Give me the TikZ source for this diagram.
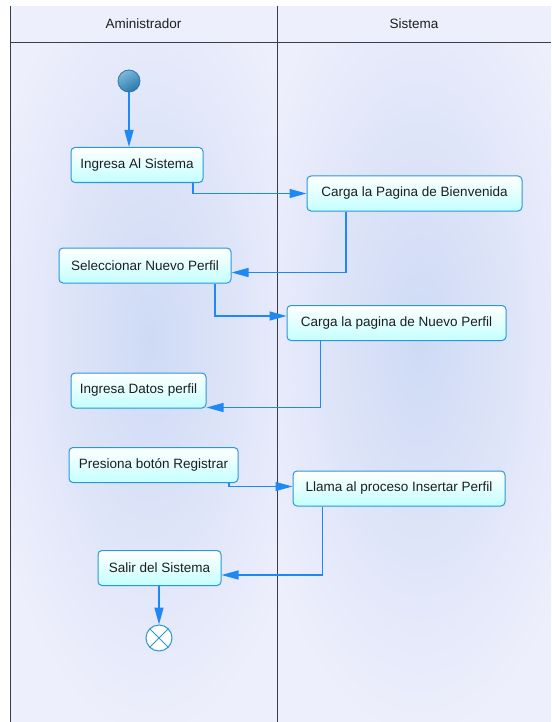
\documentclass[tikz,border=0pt]{standalone}
\usepackage{fontspec}
\setmainfont{Liberation Sans}
\usetikzlibrary{arrows.meta, calc, positioning}
\definecolor{LaneBg}{RGB}{238,239,252}
\definecolor{LaneGlow}{RGB}{206,218,245}
\definecolor{LaneLine}{HTML}{3C3C46}
\definecolor{FlowBlue}{HTML}{1E88F5}
\definecolor{BoxLine}{HTML}{2A98D6}
\definecolor{BoxCyan}{RGB}{196,255,255}
\definecolor{StartLight}{HTML}{7DB8DC}
\definecolor{StartDark}{HTML}{2A78AA}
\definecolor{DText}{HTML}{1E1E1E}
\tikzset{
    activity/.style={draw=BoxLine, line width=1pt, rounded corners=4pt,
        top color=white, bottom color=BoxCyan, text=DText,
        minimum height=35pt, inner sep=0pt,
        font=\fontsize{13.5}{16}\selectfont},
    flow/.style={FlowBlue, line width=1.3pt, -{Triangle[length=17pt,width=9pt]}},
    lanetitle/.style={text=DText, font=\fontsize{13.5}{16}\selectfont},
}
\NewDocumentCommand{\LaneGlow}{m m m}{
    \shade[inner color=LaneGlow, outer color=LaneBg] #1 ellipse (#2 and #3);
}
\newcommand{\SwimLanes}{
\useasboundingbox (0,0) rectangle (551,722);
\fill[LaneBg] (10,6) rectangle (551,722);
\begin{scope}
    \clip (10,43) rectangle (277,722);
    \LaneGlow{(150,340)}{170}{400}
\end{scope}
\begin{scope}
    \clip (277,43) rectangle (551,722);
    \LaneGlow{(420,340)}{180}{400}
\end{scope}
\draw[LaneLine, line width=1.5pt] (10,42.5) -- (551,42.5);
\draw[LaneLine, line width=1pt] (10,6) -- (10,722);
\draw[LaneLine, line width=1pt] (277,6) -- (277,722);
\node[lanetitle] (admin) at (143.5,24) {Aministrador};
\node[lanetitle] (sistema) at (414,24) {Sistema};
}

\begin{document}
\begin{tikzpicture}[x=1pt, y=-1pt]
\SwimLanes

\node[circle, draw=StartDark, line width=0.8pt, minimum size=22pt, inner sep=0pt,
    top color=StartLight, bottom color=StartDark, shading angle=30] (inicio) at (129,81) {};
\node[activity, minimum width=132pt] (ingreso) at (137,165) {Ingresa Al Sistema};
\node[activity, minimum width=215pt] (bienvenida) at (414.5,193.5) {Carga la Pagina de Bienvenida};
\node[activity, minimum width=172pt] (seleccionar) at (145,265.5) {Seleccionar Nuevo Perfil};
\node[activity, minimum width=219pt] (nuevo) at (396.5,323) {Carga la pagina de Nuevo Perfil};
\node[activity, minimum width=135pt] (datos) at (138.5,390.5) {Ingresa Datos perfil};
\node[activity, minimum width=169pt] (presiona) at (153.5,465) {Presiona botón Registrar};
\node[activity, minimum width=212pt] (llama) at (399,488.5) {Llama al proceso Insertar Perfil};
\node[activity, minimum width=123pt] (salir) at (159.5,568) {Salir del Sistema};
\node[circle, draw=BoxLine, fill=white, line width=1pt, minimum size=26pt, inner sep=0pt,
    path picture={
        \draw[BoxLine, line width=1pt] (path picture bounding box.north west) -- (path picture bounding box.south east);
        \draw[BoxLine, line width=1pt] (path picture bounding box.north east) -- (path picture bounding box.south west);
    }] (fin) at (159,638) {};

\draw[flow] (inicio) -- (inicio |- ingreso.north);
\draw[flow] ([xshift=56pt]ingreso.south) |- (bienvenida.west);
\draw[flow] ([xshift=-68.5pt]bienvenida.south) |- ([yshift=-7pt]seleccionar.east);
\draw[flow] ([xshift=70pt]seleccionar.south) |- ([yshift=7pt]nuevo.west);
\draw[flow] ([xshift=-76pt]nuevo.south) |- ([yshift=1pt]datos.south east);
\draw[flow] ([xshift=75.5pt]presiona.south) |- ([yshift=2pt]llama.west);
\draw[flow] ([xshift=-76.7pt]llama.south) |- ([yshift=-7pt]salir.east);
\draw[flow] (salir.south -| fin) -- (fin.north);

\end{tikzpicture}
\end{document}
